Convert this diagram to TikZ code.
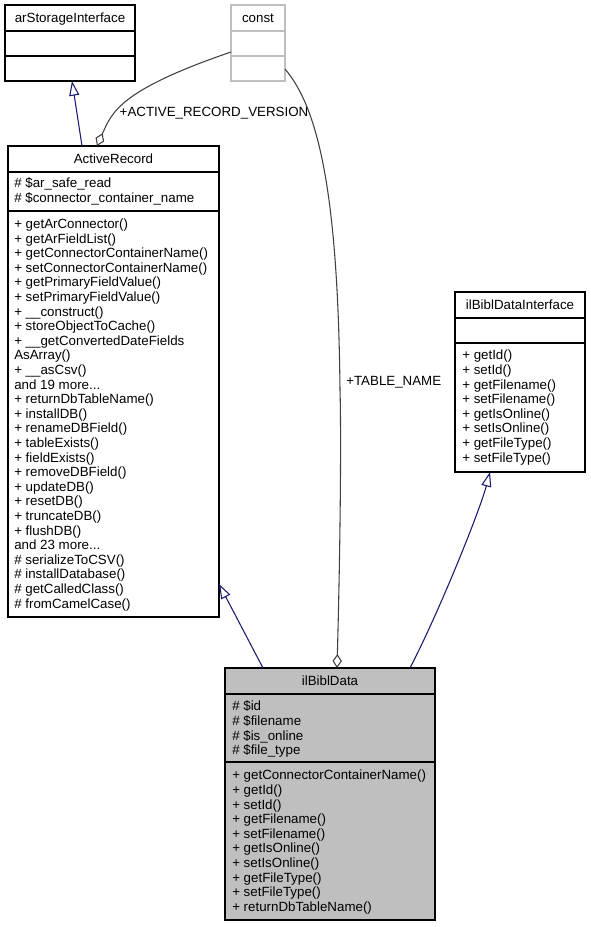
\documentclass[tikz,border=0pt]{standalone}
\usepackage{fontspec}
\setmainfont{Liberation Sans}
\usetikzlibrary{arrows.meta,calc}
\definecolor{edgeblue}{HTML}{191970}
\definecolor{edgegray}{HTML}{404040}
\definecolor{boxgray}{HTML}{BFBFBF}
\begin{document}
\begin{tikzpicture}[x=0.75pt,y=-0.75pt,
  font=\fontsize{10}{10.95}\selectfont,
  cls/.style={draw=black, line width=0.9pt, fill=white, inner sep=0pt, outer sep=0pt, anchor=north west},
  ttl/.style={inner sep=0pt, anchor=base},
  txt/.style={inner sep=0pt, anchor=north west, align=left},
  inh/.style={draw=edgeblue, line width=0.8pt, -{Triangle[open, length=11pt, width=7.5pt]}},
  agg/.style={draw=edgegray, line width=0.8pt, {Diamond[open, length=10.5pt, width=7pt]}-},
  lbl/.style={inner sep=0pt},
  sep/.style={line width=0.9pt}
]
\useasboundingbox (0,0) rectangle (591,927);

% arStorageInterface
\node[cls, minimum width=97.5pt, minimum height=57pt] (ASI) at (5,5) {};
\draw[sep] (ASI.west |- 0,31) -- (ASI.east |- 0,31);
\draw[sep] (ASI.west |- 0,56) -- (ASI.east |- 0,56);
\node[ttl] (ASIt) at (70,22.7) {arStorageInterface};

% const
\node[cls, draw=boxgray, minimum width=40.5pt, minimum height=57pt] (CON) at (231,5) {};
\draw[sep, boxgray] (CON.west |- 0,31) -- (CON.east |- 0,31);
\draw[sep, boxgray] (CON.west |- 0,56) -- (CON.east |- 0,56);
\node[ttl] (CONt) at (258,22.7) {const};

% ActiveRecord
\node[cls, minimum width=158.25pt, minimum height=353.25pt] (AR) at (8,146) {};
\draw[sep] (AR.west |- 0,172) -- (AR.east |- 0,172);
\draw[sep] (AR.west |- 0,211) -- (AR.east |- 0,211);
\node[ttl] (ARt) at (113.5,163.7) {ActiveRecord};
\node[txt] (ARa) at (14,177.5) {\strut\# \$ar\_safe\_read\\\# \$connector\_container\_name};
\node[txt] (ARm) at (14,218) {\strut+ getArConnector()\\+ getArFieldList()\\+ getConnectorContainerName()\\+ setConnectorContainerName()\\+ getPrimaryFieldValue()\\+ setPrimaryFieldValue()\\+ \_\_construct()\\+ storeObjectToCache()\\+ \_\_getConvertedDateFields\\AsArray()\\+ \_\_asCsv()\\and 19 more...\\+ returnDbTableName()\\+ installDB()\\+ renameDBField()\\+ tableExists()\\+ fieldExists()\\+ removeDBField()\\+ updateDB()\\+ resetDB()\\+ truncateDB()\\+ flushDB()\\and 23 more...\\\# serializeToCSV()\\\# installDatabase()\\\# getCalledClass()\\\# fromCamelCase()};

% ilBiblDataInterface
\node[cls, minimum width=97.5pt, minimum height=135pt] (IFC) at (455,292) {};
\draw[sep] (IFC.west |- 0,318) -- (IFC.east |- 0,318);
\draw[sep] (IFC.west |- 0,343) -- (IFC.east |- 0,343);
\node[ttl] (IFCt) at (520,309.7) {ilBiblDataInterface};
\node[txt] (IFCm) at (462,349.5) {\strut+ getId()\\+ setId()\\+ getFilename()\\+ setFilename()\\+ getIsOnline()\\+ setIsOnline()\\+ getFileType()\\+ setFileType()};

% ilBiblData
\node[cls, fill=boxgray, minimum width=157.5pt, minimum height=189pt] (BD) at (225,668) {};
\draw[sep] (BD.west |- 0,694) -- (BD.east |- 0,694);
\draw[sep] (BD.west |- 0,762) -- (BD.east |- 0,762);
\node[ttl] (BDt) at (330,685.7) {ilBiblData};
\node[txt] (BDa) at (232,700.5) {\strut\# \$id\\\# \$filename\\\# \$is\_online\\\# \$file\_type};
\node[txt] (BDm) at (232,769.5) {\strut+ getConnectorContainerName()\\+ getId()\\+ setId()\\+ getFilename()\\+ setFilename()\\+ getIsOnline()\\+ setIsOnline()\\+ getFileType()\\+ setFileType()\\+ returnDbTableName()};

% connectors
\draw[inh] ($(AR.north west)+(74,0)$) -- ($(ASI.south west)+(67,0)$);
\draw[agg] ($(AR.north west)+(89,0)$) .. controls (112,112) and (120,90) .. ($(CON.west)+(0,9)$);
\node[lbl, anchor=base] (L1) at (214,116.7) {+ACTIVE\_RECORD\_VERSION};
\draw[agg] ($(BD.north west)+(112,0)$) .. controls (341,520) and (341,420) .. (340,390) .. controls (338,200) and (320,110) .. ($(CON.east)+(0,26)$);
\node[lbl, anchor=base west] (L2) at (346,385.7) {+TABLE\_NAME};
\draw[inh] ($(BD.north west)+(38,0)$) -- ($(AR.north east)+(0,438)$);
\draw[inh] ($(BD.north west)+(185,0)$) .. controls (440,610) and (480,510) .. ($(IFC.south west)+(35,0)$);
\end{tikzpicture}
\end{document}
